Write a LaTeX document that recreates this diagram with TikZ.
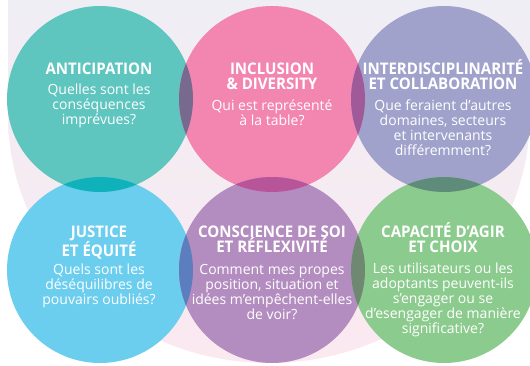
\documentclass[tikz,border=0pt]{standalone}
\usepackage{fontspec}
\setmainfont{Open Sans}
\newfontfamily\titlefont[FakeStretch=0.94]{Open Sans}

% colours
\definecolor{bgtop}{HTML}{EFEEF4}
\definecolor{bgbot}{HTML}{FBE9F0}
\definecolor{cteal}{HTML}{5EC5BF}
\definecolor{cpink}{HTML}{F286B0}
\definecolor{clav}{HTML}{A0A2CB}
\definecolor{cblue}{HTML}{6BCEEE}
\definecolor{cpurp}{HTML}{B48DC0}
\definecolor{cgreen}{HTML}{8CCB8E}
\definecolor{ovtp}{HTML}{786A8E}
\definecolor{ovpl}{HTML}{A05A9A}
\definecolor{ovtb}{HTML}{0FB2BB}
\definecolor{ovpp}{HTML}{B8559A}
\definecolor{ovlg}{HTML}{5E8B7A}
\definecolor{ovbp}{HTML}{5D7EBE}
\definecolor{ovpg}{HTML}{6F8872}

\tikzset{
    bubble/.style={circle, minimum size=186pt, inner sep=0pt},
    ttl/.style={anchor=north, align=center, inner sep=0pt, text=white,
        font=\titlefont\fontsize{16}{15.5}\selectfont\bfseries},
    txt/.style={anchor=north, align=center, inner sep=0pt, text=white,
        font=\fontsize{14}{15}\selectfont},
}
\newcommand{\tstrut}{\rule{0pt}{16pt}}
\newcommand{\bstrut}{\rule{0pt}{15pt}}

\begin{document}
\begin{tikzpicture}[x=1pt, y=1pt]
        \useasboundingbox (0,0) rectangle (530,365);

        % pale backdrop
        \shade[top color=bgtop, middle color=bgbot, bottom color=bgbot]
            (8,365) -- (8,250) arc[start angle=180, end angle=360, x radius=261pt, y radius=248pt]
            -- (530,365) -- cycle;

        \node[bubble, fill=cteal]  (c1) at (100,266) {};
        \node[bubble, fill=cpink]  (c2) at (272,266) {};
        \node[bubble, fill=clav]   (c3) at (444,266) {};
        \node[bubble, fill=cblue]  (c4) at (100,95) {};
        \node[bubble, fill=cpurp]  (c5) at (272,95) {};
        \node[bubble, fill=cgreen] (c6) at (444,95) {};

        \foreach \a/\b/\col in {c1/c2/ovtp, c2/c3/ovpl, c1/c4/ovtb, c2/c5/ovpp, c3/c6/ovlg, c4/c5/ovbp, c5/c6/ovpg}
        {
            \begin{scope}
                \clip (\a.center) circle (93pt);
                \fill[\col] (\b.center) circle (93pt);
            \end{scope}
        }

        \node[ttl] (t1) at (99,307) {\tstrut ANTICIPATION};
        \node[txt] (b1) at (99,286) {\bstrut Quelles sont les\\conséquences\\imprévues?};

        \node[ttl] (t2) at (272,307) {\tstrut INCLUSION\\\& DIVERSITY};
        \node[txt] (b2) at (272,270) {\bstrut Qui est représenté\\à la table?};

        \node[ttl] (t3) at (443,307) {\tstrut INTERDISCIPLINARITÉ\\ET COLLABORATION};
        \node[txt] (b3) at (443,270) {\bstrut Que feraient d’autres\\domaines, secteurs\\et intervenants\\différemment?};

        \node[ttl] (t4) at (99,144) {\tstrut JUSTICE\\ET ÉQUITÉ};
        \node[txt] (b4) at (99,106) {\bstrut Quels sont les\\déséquilibres de\\pouvairs oubliés?};

        \node[ttl] (t5) at (272,144) {\tstrut CONSCIENCE DE SOI\\ET RÉFLEXIVITÉ};
        \node[txt] (b5) at (272,106) {\bstrut Comment mes propes\\position, situation et\\idées m’empêchent-elles\\de voir?};

        \node[ttl] (t6) at (443,144) {\tstrut CAPACITÉ D’AGIR\\ET CHOIX};
        \node[txt] (b6) at (443,107) {\bstrut Les utilisateurs ou les\\adoptants peuvent-ils\\s’engager ou se\\d’esengager de manière\\significative?};
    \end{tikzpicture}
\end{document}
